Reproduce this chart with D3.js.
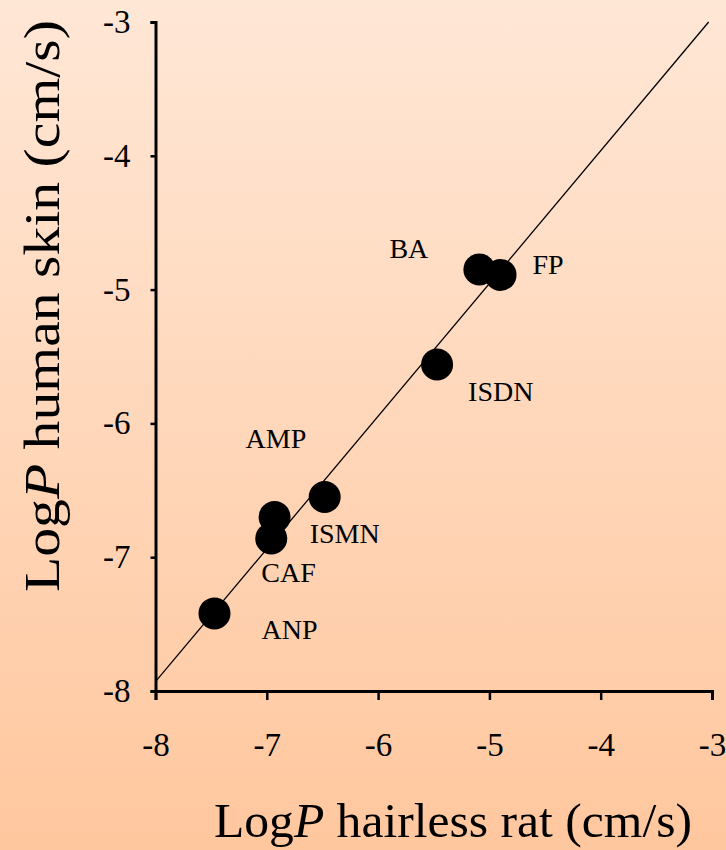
<!DOCTYPE html>
<html lang="en">
	<head>
		<meta charset="utf-8">
		<title>LogP human skin vs hairless rat</title>
		<script src="https://d3js.org/d3.v7.min.js"></script>
		<style type="text/css">
			body { margin: 0; }
			svg { display: block; font-family: "Liberation Serif", "Times New Roman", serif; }
		</style>
	</head>
	<body>
		<script type="text/javascript">

			//Data
			var compounds = ["BA", "FP", "ISDN", "ISMN", "AMP", "CAF", "ANP"];
			var ratLogP   = [-5.09, -4.90, -5.47, -6.48, -6.93, -6.96, -7.47];
			var humanLogP = [-4.85, -4.89, -5.56, -6.55, -6.70, -6.86, -7.42];

			//Fitted line end points
			var lineX = [-8, -3.03];
			var lineY = [-7.93, -3.0];

			var xTicks = [-8, -7, -6, -5, -4, -3];
			var yTicks = [-8, -7, -6, -5, -4, -3];

			//Label offsets from each point (px)
			var labelDx = [-90, 32, 31, -15, -29, -10, 47];
			var labelDy = [-12, -1, 36, 46, -69, 44, 26];

			var w = 726;
			var h = 850;

			var x = d3.scaleLinear().domain([-8, -3]).range([155.5, 712]);
			var y = d3.scaleLinear().domain([-8, -3]).range([691, 22]);

			var svg = d3.select("body")
						.append("svg")
						.attr("width", w)
						.attr("height", h);

			//Background gradient
			var grad = svg.append("defs")
						  .append("linearGradient")
						  .attr("id", "bg")
						  .attr("x1", 0).attr("y1", 0)
						  .attr("x2", 0).attr("y2", 1);
			grad.append("stop").attr("offset", "0%").attr("stop-color", "#ffe7d6");
			grad.append("stop").attr("offset", "100%").attr("stop-color", "#ffc79e");

			svg.append("rect")
			   .attr("width", w)
			   .attr("height", h)
			   .attr("fill", "url(#bg)");

			//Axes
			var xAxis = d3.axisBottom(x)
						  .tickValues(xTicks)
						  .tickSize(9)
						  .tickPadding(33)
						  .tickFormat(function (d) { return String(d); });

			var yAxis = d3.axisLeft(y)
						  .tickValues(yTicks)
						  .tickSize(5)
						  .tickPadding(20)
						  .tickFormat(function (d) { return String(d); });

			var gx = svg.append("g")
						.attr("transform", "translate(0," + y(-8) + ")")
						.call(xAxis);

			var gy = svg.append("g")
						.attr("transform", "translate(" + x(-8) + ",0)")
						.call(yAxis);

			[gx, gy].forEach(function (g) {
				g.attr("font-family", null).attr("font-size", null);
				g.select(".domain").attr("stroke", "#000").attr("stroke-width", 3);
				g.selectAll(".tick line").attr("stroke", "#000").attr("stroke-width", 2.5);
				g.selectAll(".tick text")
				 .attr("fill", "#000")
				 .style("font-size", "33px");
			});

			//Fit line
			svg.append("line")
			   .attr("x1", x(lineX[0]))
			   .attr("y1", y(lineY[0]))
			   .attr("x2", x(lineX[1]))
			   .attr("y2", y(lineY[1]))
			   .attr("stroke", "#000")
			   .attr("stroke-width", 1.3);

			//Points
			svg.selectAll("circle")
			   .data(compounds)
			   .enter()
			   .append("circle")
			   .attr("cx", function (d, i) { return x(ratLogP[i]); })
			   .attr("cy", function (d, i) { return y(humanLogP[i]); })
			   .attr("r", 16)
			   .attr("fill", "#000");

			//Point labels
			svg.selectAll("text.label")
			   .data(compounds)
			   .enter()
			   .append("text")
			   .attr("class", "label")
			   .attr("x", function (d, i) { return x(ratLogP[i]) + labelDx[i]; })
			   .attr("y", function (d, i) { return y(humanLogP[i]) + labelDy[i]; })
			   .style("font-size", "28px")
			   .text(function (d) { return d; });

			//Axis titles
			var xt = svg.append("text")
						.attr("x", 214)
						.attr("y", 837)
						.attr("textLength", 478)
						.attr("lengthAdjust", "spacingAndGlyphs")
						.style("font-size", "49px");
			xt.append("tspan").text("Log");
			xt.append("tspan").style("font-style", "italic").text("P");
			xt.append("tspan").text(" hairless rat (cm/s)");

			var yt = svg.append("text")
						.attr("transform", "translate(59,592) rotate(-90)")
						.attr("x", 0)
						.attr("y", 0)
						.attr("textLength", 572)
						.attr("lengthAdjust", "spacingAndGlyphs")
						.style("font-size", "50px");
			yt.append("tspan").text("Log");
			yt.append("tspan").style("font-style", "italic").text("P");
			yt.append("tspan").text(" human skin (cm/s)");

		</script>
	</body>
</html>
